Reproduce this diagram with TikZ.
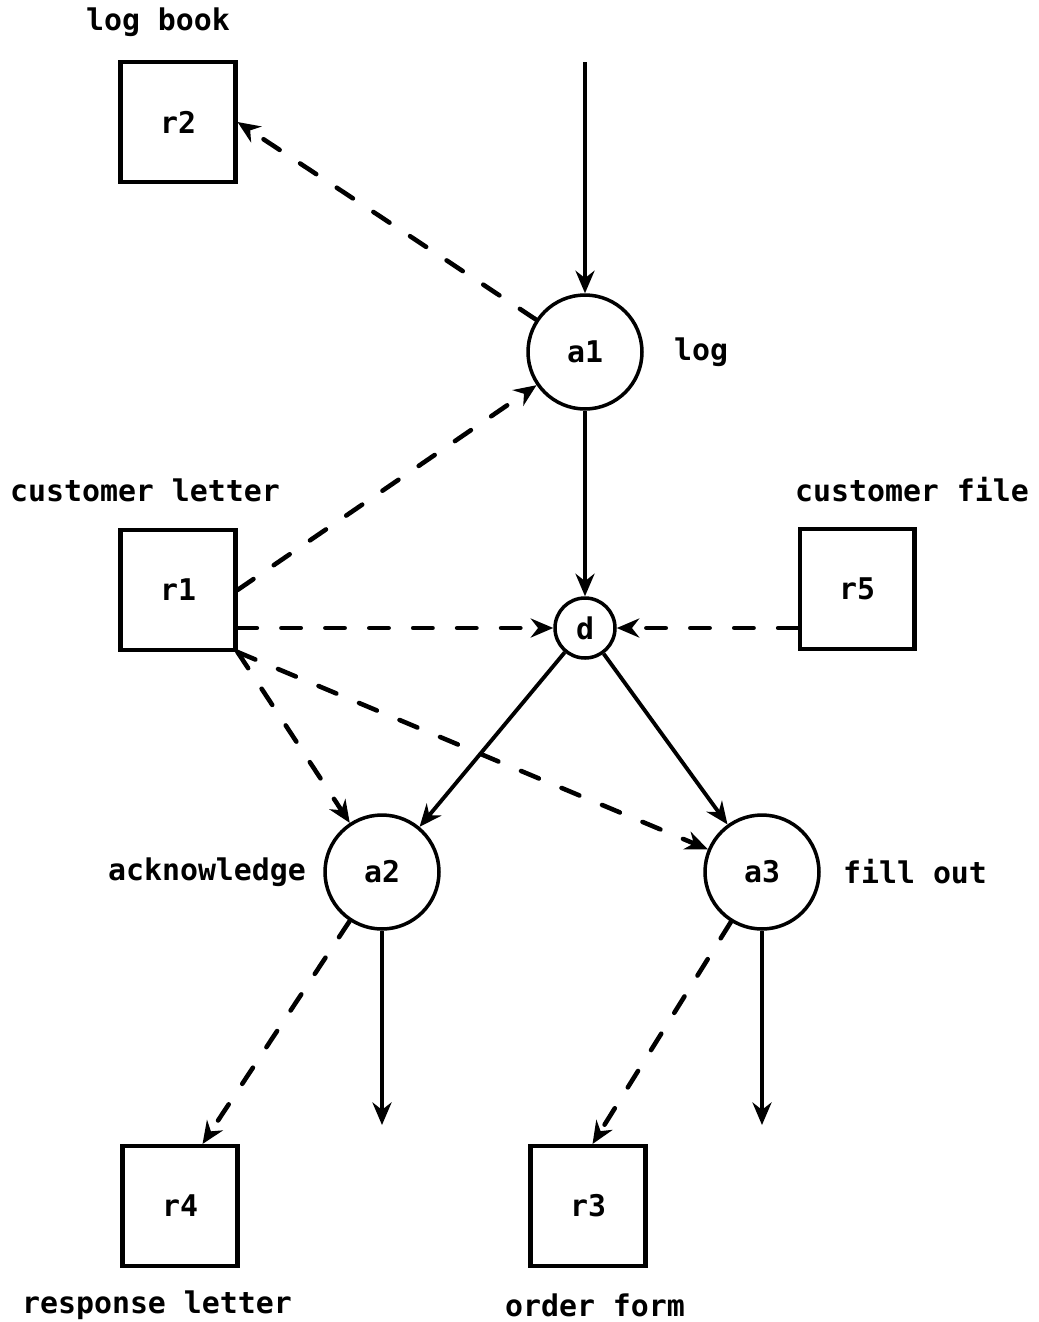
\documentclass[tikz,border=0pt]{standalone}
\usepackage{fontspec}
\setmonofont{DejaVu Sans Mono}
\usetikzlibrary{arrows.meta, positioning}

\newcommand{\figfont}{\fontsize{17}{20}\selectfont\ttfamily\bfseries}

\begin{document}
\begin{tikzpicture}[
    x=0.02cm, y=-0.02cm,
    >={Stealth[length=0.45cm, width=0.38cm]},
    % --- node styles ---
    resource/.style={
        draw=black, line width=2.3pt,
        minimum width=2.3cm, minimum height=2.4cm,
        inner sep=0pt, font=\figfont},
    activity/.style={
        draw=black, circle, line width=2pt,
        minimum size=2.28cm, inner sep=0pt, font=\figfont},
    decision/.style={activity, minimum size=1.2cm},
    lbl/.style={font=\figfont, inner sep=0pt},
    flow/.style={->, line width=2.2pt},
    use/.style={->, line width=2.6pt, line cap=round,
        dash pattern=on 11pt off 14pt},
]
\useasboundingbox (0,0) rectangle (1038,1322);

% ===== ACTIVITIES / DECISION =====
\node[activity] (a1) at (585,352) {a1};
\node[decision] (d)  at (585,628) {d};
\node[activity] (a2) at (382,872) {a2};
\node[activity] (a3) at (762,872) {a3};

% ===== RESOURCES =====
\node[resource] (r2) at (178,122)  {r2};
\node[resource] (r1) at (178,590)  {r1};
\node[resource] (r5) at (857,589)  {r5};
\node[resource] (r4) at (180,1206) {r4};
\node[resource] (r3) at (588,1206) {r3};

% ===== LABELS =====
\node[lbl] (lbook) at (158,22)   {log book};
\node[lbl] (lcl)   at (145,490)  {customer letter};
\node[lbl] (lcf)   at (912,490)  {customer file};
\node[lbl] (lrl)   at (157,1305) {response letter};
\node[lbl] (lof)   at (595,1305) {order form};
\node[lbl, right=0.6cm of a1]  (llog) {log};
\node[lbl, left=0.34cm of a2]  (lack) {acknowledge};
\node[lbl, right=0.44cm of a3] (lfill) {fill out};

% ===== FREE ENDS =====
\coordinate (start) at (585,62);
\coordinate (out2)  at (382,1125);
\coordinate (out3)  at (762,1125);

% ===== ARROWS — control flow =====
\draw[flow] (start) -- (a1);
\draw[flow] (a1) -- (d);
\draw[flow] (d) -- (a2);
\draw[flow] (d) -- (a3);
\draw[flow] (a2) -- (out2);
\draw[flow] (a3) -- (out3);

% ===== ARROWS — resource use =====
\draw[use] (a1) -- (r2.east);
\draw[use] (r1.east) -- (a1);
\draw[use] (r1.east |- d) -- (d);
\draw[use] (r5.west |- d) -- (d);
\draw[use] (r1.south east) -- (a2);
\draw[use] (r1.south east) -- (a3);
\draw[use] (a2) -- ([xshift=-0.74cm]r4.north east);
\draw[use] (a3) -- ([xshift=-1.1cm]r3.north east);

\end{tikzpicture}
\end{document}
